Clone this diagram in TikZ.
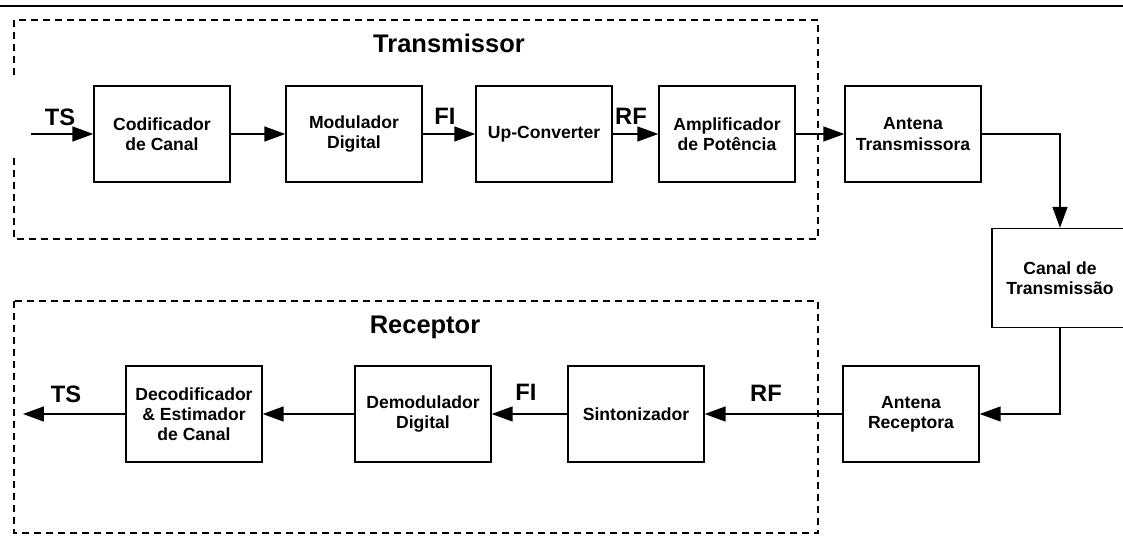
\documentclass[tikz,border=0pt]{standalone}
\usepackage{fontspec}
\setmainfont{Liberation Sans}
\usetikzlibrary{arrows.meta}

\begin{document}
\begin{tikzpicture}[x=0.02cm,y=-0.02cm]
\tikzset{block/.style={draw,line width=0.8pt,minimum width=2.72cm,minimum height=1.92cm,inner sep=1pt,align=center,font=\fontsize{10}{11.5}\selectfont\bfseries}}
\tikzset{link/.style={line width=0.8pt,-{Triangle[length=0.42cm,width=0.3cm]}}}
\tikzset{sig/.style={font=\fontsize{13.5}{16}\selectfont\bfseries,inner sep=0pt}}
\tikzset{title/.style={font=\fontsize{14.5}{17}\selectfont\bfseries,inner sep=0pt}}
\tikzset{group/.style={line width=0.7pt,dash pattern=on 0.14cm off 0.1cm}}

\useasboundingbox (0,0) rectangle (1123,537);

\draw[line width=1.1pt] (0,6) -- (1123,6);

\draw[group] (14,75) -- (14,20) -- (818,20) -- (818,239) -- (14,239) -- (14,158);
\draw[group] (14,301) rectangle (818,533);

\node[title] (tx) at (449,43) {Transmissor};
\node[title] (rx) at (425,327) {Receptor};

\node[block] (cod) at (162,134) {Codificador\\de Canal};
\node[block] (mod) at (354,134) {Modulador\\Digital};
\node[block] (up) at (544,134) {Up-Converter};
\node[block] (amp) at (727,134) {Amplificador\\de Potência};
\node[block] (antt) at (913,134) {Antena\\Transmissora};
\node[block,minimum height=1.98cm] (canal) at (1060,278) {Canal de\\Transmissão};
\node[block] (antr) at (911,414) {Antena\\Receptora};
\node[block] (sint) at (636,414) {Sintonizador};
\node[block] (demod) at (423,414) {Demodulador\\Digital};
\node[block] (dec) at (194,414) {Decodificador\\\& Estimador\\de Canal};

\coordinate (in) at (31,134);
\coordinate (out) at (23,414);

\node[sig] (tsin) at (60,117) {TS};
\node[sig] (fitx) at (445,116) {FI};
\node[sig] (rftx) at (631,116) {RF};
\node[sig] (rfrx) at (766,393) {RF};
\node[sig] (firx) at (526,392) {FI};
\node[sig] (tsout) at (66,394) {TS};

\draw[link] (in) -- (cod);
\draw[link] (cod) -- (mod);
\draw[link] (mod) -- (up);
\draw[link] (up) -- (amp);
\draw[link] (amp) -- (antt);
\draw[link] (antt.east) -| (canal.north);
\draw[link] (canal.south) |- (antr);
\draw[link] (antr) -- (sint);
\draw[link] (sint) -- (demod);
\draw[link] (demod) -- (dec);
\draw[link] (dec) -- (out);

\end{tikzpicture}
\end{document}
